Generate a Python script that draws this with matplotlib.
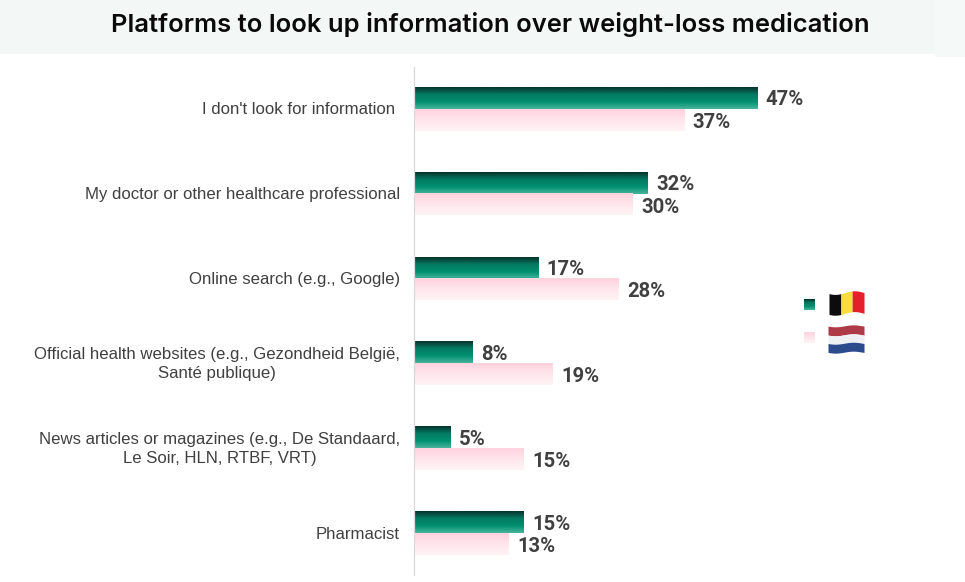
import numpy as np
import matplotlib
matplotlib.use("Agg")
import matplotlib.pyplot as plt
from matplotlib.colors import LinearSegmentedColormap
from matplotlib.patches import Rectangle

title = "Platforms to look up information over weight-loss medication"
categories = [
    "I don't look for information ",
    "My doctor or other healthcare professional",
    "Online search (e.g., Google)",
    "Official health websites (e.g., Gezondheid België,\nSanté publique)",
    "News articles or magazines (e.g., De Standaard,\nLe Soir, HLN, RTBF, VRT)",
    "Pharmacist",
]
belgium = [47, 32, 17, 8, 5, 15]
netherlands = [37, 30, 28, 19, 15, 13]

W, H = 965, 582
green = LinearSegmentedColormap.from_list("g", ["#04332d", "#047a62", "#00906f", "#46b49c"])
pink = LinearSegmentedColormap.from_list("p", ["#ffd2de", "#ffe6ec", "#fff3f6"])
grad = np.linspace(0, 1, 64).reshape(-1, 1)

fig = plt.figure(figsize=(W / 100, H / 100), dpi=100, facecolor="white")
fig.patches.append(Rectangle((0, 1 - 54 / H), 935 / W, 54 / H, transform=fig.transFigure, fc="#f3f8f6", ec="none"))
fig.patches.append(Rectangle((935 / W, 1 - 57 / H), 30 / W, 57 / H, transform=fig.transFigure, fc="#f5f9f7", ec="none"))
fig.text(490.5 / W, 1 - 24.5 / H, title, ha="center", va="center", fontsize=18.45,
         family="Inter", fontweight="semibold", color="#0a0a0a")

px_per_pct = 7.3
ax_x = 413.6
ax = fig.add_axes([ax_x / W, 1 - 575 / H, (W - ax_x) / W, (575 - 67) / H])
ax.patch.set_alpha(0)
for s in ["top", "right", "bottom"]:
    ax.spines[s].set_visible(False)
ax.spines["left"].set_color("#d9d9d9")
ax.spines["left"].set_linewidth(0.9)
ax.set_xticks([])
ax.set_yticks([])

for i, label in enumerate(categories):
    ax.annotate(label, (0, i), xytext=(-9.8, -0.5), textcoords="offset points",
                ha="right", va="center", multialignment="center", linespacing=1.34,
                fontsize=12.1, family="Liberation Sans", color="#404040", annotation_clip=False)

bar_h = 0.258
for i, (b, n) in enumerate(zip(belgium, netherlands)):
    ax.imshow(grad, cmap=green, aspect="auto", extent=(0, b, i, i - bar_h), zorder=2, interpolation="bilinear")
    ax.imshow(grad, cmap=pink, aspect="auto", extent=(0, n, i + bar_h, i), zorder=2, interpolation="bilinear")
    for v, y, dy in ((b, i - bar_h / 2, -1.4), (n, i + bar_h / 2, -1.8)):
        ax.annotate(f"{v}%", (v, y), xytext=(6.4, dy), textcoords="offset points", va="center", ha="left",
                    fontsize=14.6, family="Roboto", fontweight="bold", color="#404040")
ax.set_xlim(0, (W - ax_x) / px_per_pct)
ax.set_ylim(5.49, -0.49)


def pix_axes(x0, y0, x1, y1):
    a = fig.add_axes([x0 / W, 1 - y1 / H, (x1 - x0) / W, (y1 - y0) / H])
    a.axis("off")
    return a


# legend swatches
sw1 = pix_axes(804, 299, 815, 310)
sw1.imshow(grad, cmap=green, aspect="auto", interpolation="bilinear")
sw2 = pix_axes(804, 332, 815, 343)
sw2.imshow(grad, cmap=pink, aspect="auto", interpolation="bilinear")

# Belgian flag (vertical stripes with a slight wave)
fb = pix_axes(829, 290, 864, 316)
fb.set_xlim(0, 1)
fb.set_ylim(1, 0)
xs = np.linspace(0, 1, 60)
wave = 0.07 * np.sin(xs * 2 * np.pi * 0.9 + 0.6)
for lo, hi, c in ((0, 1 / 3, "#0c0c0c"), (1 / 3, 2 / 3, "#fbdc3e"), (2 / 3, 1, "#e5202c")):
    m = (xs >= lo - 0.01) & (xs <= hi + 0.01)
    fb.fill_between(xs[m], 0.1 + wave[m], 0.9 + wave[m], color=c, lw=0)

# Dutch flag (horizontal stripes with a slight wave)
fn = pix_axes(828, 325, 864, 353)
fn.set_xlim(0, 1)
fn.set_ylim(1, 0)
wave = 0.035 * np.sin(xs * 2 * np.pi * 1.0 + 0.3)
for lo, hi, c in ((0.03, 0.35, "#ad3a46"), (0.35, 0.65, "#eef0f3"), (0.65, 0.97, "#2b4b8c")):
    fn.fill_between(xs, lo + wave, hi + wave, color=c, lw=0)

fig.savefig("out.png", dpi=100)
